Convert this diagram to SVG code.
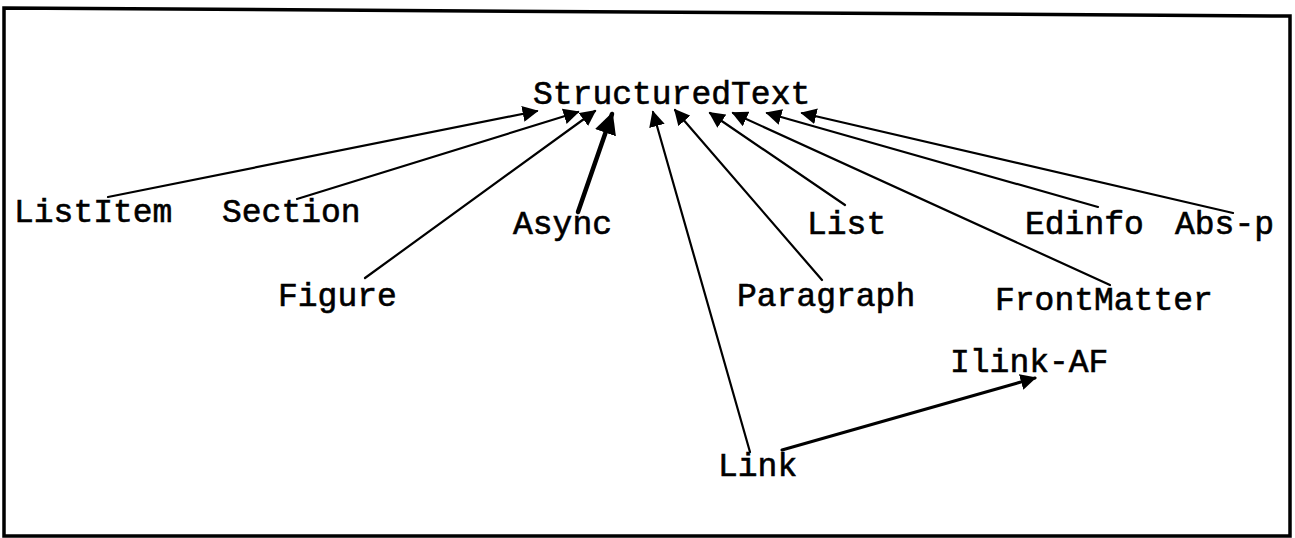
<svg xmlns="http://www.w3.org/2000/svg" width="1295" height="538" viewBox="0 0 1295 538">
<style>
.lbl{font-family:"Liberation Mono","Courier New",monospace;font-size:33px;fill:#000;stroke:#000;stroke-width:0.6}
.c{stroke:#000;stroke-width:2.2;fill:none;stroke-linecap:round}
.cb{stroke:#000;stroke-width:4.5;fill:none;stroke-linecap:round}
</style>
<defs>
<marker id="ah" viewBox="0 0 10 10" refX="9" refY="5" markerWidth="9" markerHeight="9" markerUnits="userSpaceOnUse" orient="auto"><path d="M0,0 L10,5 L0,10 z" fill="#000"/></marker>
<marker id="ahs" viewBox="0 0 10 10" refX="9" refY="5" markerWidth="16" markerHeight="16" markerUnits="userSpaceOnUse" orient="auto"><path d="M0,0 L10,5 L0,10 z" fill="#000"/></marker>
<marker id="ahb" viewBox="0 0 10 10" refX="9" refY="5" markerWidth="22" markerHeight="22" markerUnits="userSpaceOnUse" orient="auto"><path d="M0,0 L10,5 L0,10 z" fill="#000"/></marker>
</defs>
<rect width="1295" height="538" fill="#fff"/>
<path d="M4,8 L1290,16 L1290,536 L4,536 Z" fill="none" stroke="#000" stroke-width="3.5"/>
<g id="connectors">
<path class="c" d="M108,197 L537,111" marker-end="url(#ahs)"/>
<path class="c" d="M297,199 L578,112" marker-end="url(#ahs)"/>
<path class="c" d="M365,278 L595,111" marker-end="url(#ahs)"/>
<path class="cb" d="M578,212 L612,114" marker-end="url(#ahb)"/>
<path class="c" d="M750,452 L653,112" marker-end="url(#ahs)"/>
<path class="c" d="M822,280 L675,110" marker-end="url(#ahs)"/>
<path class="c" d="M845,205 L710,113" marker-end="url(#ahs)"/>
<path class="c" d="M1110,285 L733,113" marker-end="url(#ahs)"/>
<path class="c" d="M1098,207 L767,113" marker-end="url(#ahs)"/>
<path class="c" d="M1233,213 L802,113" marker-end="url(#ahs)"/>
<path class="c" style="stroke-width:3" d="M782,450 L1035,378" marker-end="url(#ahs)"/>
</g>
<g id="StructuredText"><text class="lbl" x="533" y="104">StructuredText</text></g>
<g id="ListItem"><text class="lbl" x="14" y="222">ListItem</text></g>
<g id="Section"><text class="lbl" x="222" y="222">Section</text></g>
<g id="Async"><text class="lbl" x="513" y="234">Async</text></g>
<g id="Figure"><text class="lbl" x="278" y="306">Figure</text></g>
<g id="List"><text class="lbl" x="807" y="234">List</text></g>
<g id="Paragraph"><text class="lbl" x="737" y="306">Paragraph</text></g>
<g id="Edinfo"><text class="lbl" x="1025" y="234">Edinfo</text></g>
<g id="Abs-p"><text class="lbl" x="1175" y="234">Abs-p</text></g>
<g id="FrontMatter"><text class="lbl" x="995" y="310">FrontMatter</text></g>
<g id="Ilink-AF"><text class="lbl" x="950" y="372">Ilink-AF</text></g>
<g id="Link"><text class="lbl" x="718" y="476">Link</text></g>
</svg>
